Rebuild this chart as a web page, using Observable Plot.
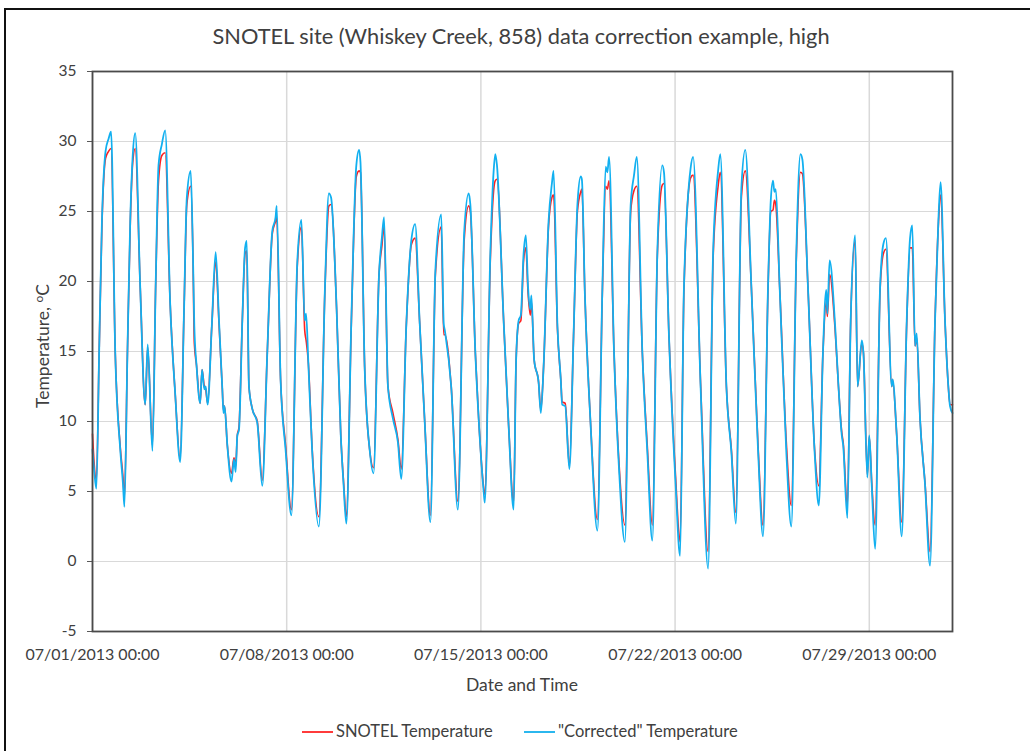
<!DOCTYPE html>
<html>
<head>
<meta charset="utf-8">
<script src="https://cdn.jsdelivr.net/npm/d3@7"></script>
<script src="https://cdn.jsdelivr.net/npm/@observablehq/plot@0.6"></script>
<style>
  html, body { margin: 0; padding: 0; background: #fff; }
  #wrap { position: relative; width: 1030px; height: 751px; overflow: hidden; font-family: Lato, "Open Sans", sans-serif; color: #404040; }
  #border { position: absolute; left: 4px; top: 8px; width: 1040px; height: 760px; border: 2px solid #111; box-sizing: border-box; }
  #title { position: absolute; left: 0; width: 1042px; top: 22px; text-align: center; font-size: 21.8px; }
  #chart { position: absolute; left: 0; top: 0; }
  #ylabel { position: absolute; left: 42px; top: 346px; transform: translate(-50%, -50%) rotate(-90deg); white-space: nowrap; font-size: 17.5px; }
  #ylabel sup { font-size: 12px; }
  #xlabel { position: absolute; left: 0; width: 1044px; top: 674px; text-align: center; font-size: 17.5px; }
  .leg { position: absolute; top: 721px; font-size: 16.5px; white-space: nowrap; }
  .leg span.sw { display: inline-block; width: 31px; height: 2px; vertical-align: middle; margin-right: 3px; position: relative; top: -1px; }
</style>
</head>
<body>
<div id="wrap">
  <div id="chart"></div>
  <div id="border"></div>
  <div id="title">SNOTEL site (Whiskey Creek, 858) data correction example, high</div>
  <div id="ylabel">Temperature, <sup>o</sup>C</div>
  <div id="xlabel">Date and Time</div>
  <div class="leg" style="left:302px"><span class="sw" style="background:#ff3b3b"></span>SNOTEL Temperature</div>
  <div class="leg" style="left:524px"><span class="sw" style="background:#2bb7ee"></span>"Corrected" Temperature</div>
</div>
<script>
// time in days since 07/01/2013 00:00
const days = [
  0.00,0.06,0.14,0.24,0.34,0.47,0.58,0.67,0.82,1.00,1.10,1.15,1.26,1.36,1.45,1.54,1.72,1.90,1.99,2.16,
  2.28,2.38,2.50,2.62,2.80,2.98,3.16,3.30,3.40,3.54,3.62,3.67,3.75,3.88,3.95,4.03,4.08,4.15,4.30,4.44,
  4.56,4.68,4.72,4.76,4.86,5.01,5.10,5.16,5.22,5.28,5.40,5.50,5.56,5.64,5.76,5.94,6.12,6.30,6.48,6.60,
  6.64,6.78,6.96,7.17,7.38,7.53,7.65,7.70,7.78,7.92,8.16,8.38,8.52,8.60,8.80,8.95,9.05,9.15,9.33,9.51,
  9.61,9.66,9.81,9.99,10.13,10.33,10.43,10.51,10.65,10.83,11.01,11.13,11.31,11.49,11.63,11.79,11.97,12.18,12.36,12.57,
  12.66,12.70,12.93,13.17,13.40,13.56,13.62,13.80,13.92,14.10,14.14,14.34,14.46,14.52,14.58,14.82,15.00,15.18,15.27,15.36,
  15.44,15.54,15.62,15.70,15.78,15.82,15.92,16.08,16.16,16.26,16.44,16.56,16.62,16.76,16.88,16.93,17.04,17.19,17.34,17.48,
  17.60,17.64,17.75,17.95,18.20,18.38,18.50,18.56,18.62,18.80,18.98,19.19,19.40,19.52,19.62,19.82,20.00,20.18,20.36,20.54,
  20.60,20.78,21.02,21.18,21.32,21.56,21.65,21.92,22.19,22.37,22.55,22.63,22.85,23.03,23.19,23.39,23.53,23.75,23.99,24.17,
  24.35,24.45,24.53,24.58,24.63,24.77,25.01,25.19,25.37,25.52,25.59,25.79,26.03,26.18,26.33,26.45,26.49,26.57,26.77,26.89,
  27.01,27.06,27.21,27.33,27.49,27.58,27.73,27.79,27.93,28.00,28.09,28.21,28.39,28.51,28.60,28.81,28.84,28.99,29.17,29.35,
  29.47,29.55,29.65,29.71,29.83,30.01,30.19,30.37,30.49,30.57,30.73,30.85,30.91,31.00
];
const corrected = [
  8.0,6.5,5.2,15.0,24.3,29.3,30.2,30.7,14.9,8.0,5.5,3.9,15.0,24.3,29.0,30.6,19.6,11.2,15.5,7.9,
  20.0,28.3,29.8,30.8,18.4,12.0,7.1,18.0,26.0,27.9,22.0,16.8,14.0,11.3,13.7,12.3,12.5,11.2,16.8,22.1,
  17.2,12.3,10.6,11.1,8.3,5.7,7.3,6.4,9.0,9.4,17.2,22.4,22.9,12.5,10.9,9.9,5.4,14.9,23.6,24.6,
  25.4,13.0,8.0,3.3,21.3,24.4,17.2,17.7,14.2,7.8,2.5,19.6,26.3,26.0,18.0,9.0,5.5,2.7,17.2,28.3,
  29.4,28.5,13.9,8.0,6.3,20.6,23.1,24.6,12.5,10.2,8.5,5.9,16.8,22.9,24.1,17.2,10.2,2.8,20.8,24.8,
  17.0,16.5,12.5,3.7,23.6,26.3,25.5,14.9,10.2,5.0,4.2,22.0,27.9,29.1,28.3,17.2,9.7,3.7,14.4,17.2,
  17.6,22.0,23.3,19.6,18.0,19.0,14.4,12.8,10.6,13.9,24.3,27.0,27.9,16.8,13.0,11.2,11.1,6.6,16.1,25.5,
  27.5,27.3,19.0,10.0,2.2,19.6,28.2,27.8,28.9,14.9,6.6,1.4,25.5,27.6,28.9,14.9,7.8,1.5,22.0,28.3,
  27.8,16.1,5.5,0.4,19.6,28.1,28.9,12.5,-0.5,22.0,27.9,29.1,12.5,7.8,2.7,26.7,29.4,19.6,8.0,1.8,
  19.6,25.8,27.2,26.4,26.6,19.6,7.8,2.5,22.0,29.1,28.7,19.6,7.8,4.0,14.9,19.4,17.7,21.5,16.8,12.5,
  9.0,8.3,3.1,17.2,23.3,12.5,15.8,14.9,6.0,9.0,5.4,0.9,19.6,22.7,23.1,12.5,13.0,9.0,1.8,17.2,
  23.1,24.0,15.4,16.3,10.2,5.5,-0.3,17.2,24.3,27.1,17.2,12.5,11.1,10.6
];
const snotel = [
  9.1,7.0,5.8,15.0,24.0,28.8,29.3,29.5,14.9,8.2,6.0,4.5,15.0,24.0,28.5,29.5,19.6,11.2,15.3,8.3,
  20.0,27.2,29.0,29.2,18.4,12.0,7.3,18.0,25.5,26.8,22.0,15.6,14.0,11.3,13.7,12.5,12.3,11.3,16.8,21.4,
  17.0,12.3,10.8,11.1,8.3,6.3,7.4,6.8,9.0,9.6,17.2,22.0,22.2,12.5,10.9,10.0,5.8,14.9,23.4,24.3,
  24.6,13.0,8.3,3.7,21.0,23.9,16.5,15.8,14.2,8.0,3.2,19.5,25.4,25.5,18.0,9.0,5.7,3.2,17.0,27.5,
  27.9,27.8,13.9,8.0,6.7,20.6,22.5,24.0,12.5,10.6,8.7,6.6,16.8,22.6,23.1,17.2,10.2,3.3,20.5,23.9,
  16.2,16.2,12.5,4.3,23.0,25.4,25.0,14.9,10.2,5.3,4.8,21.5,26.5,27.2,27.3,17.2,9.7,4.2,14.4,17.0,
  17.2,21.5,22.4,19.2,17.6,18.6,14.4,12.8,10.8,13.9,24.0,26.0,26.2,16.6,13.0,11.4,11.3,6.8,16.1,25.0,
  26.4,26.6,19.0,10.0,3.0,19.3,26.8,26.6,27.2,14.9,7.0,2.6,25.0,26.5,26.8,14.9,8.2,2.6,21.8,26.9,
  27.0,16.1,6.0,1.4,19.4,27.4,27.6,12.7,0.7,21.6,26.8,27.8,12.5,8.0,3.5,26.0,27.9,19.6,8.3,2.6,
  19.4,25.0,25.1,25.8,25.5,19.6,8.5,4.0,21.6,27.8,27.7,19.6,8.0,5.4,14.9,18.6,17.5,20.5,16.5,12.5,
  9.2,8.5,3.9,17.2,22.9,12.5,15.6,14.9,6.2,8.9,5.6,2.6,19.4,22.0,22.3,12.5,13.0,9.0,2.8,17.0,
  22.4,22.4,15.4,16.0,10.2,5.6,0.7,17.2,24.0,26.2,17.2,12.5,11.2,11.2
];
const yTicks = [-5, 0, 5, 10, 15, 20, 25, 30, 35];
const xTickLabels = ["07/01/2013 00:00", "07/08/2013 00:00", "07/15/2013 00:00", "07/22/2013 00:00", "07/29/2013 00:00"];
const xStart = "2013-07-01T00:00Z";
const xEnd = "2013-08-01T00:00Z";

const t0 = new Date(xStart).getTime();
const toDate = (d) => new Date(t0 + d * 864e5);
const parseLbl = d3.utcParse("%m/%d/%Y %H:%M");
const xTicks = xTickLabels.map(parseLbl);
const fmt = d3.utcFormat("%m/%d/%Y %H:%M");

const rows = days.map((d, i) => ({t: toDate(d), snotel: snotel[i], corrected: corrected[i]}));

const chart = Plot.plot({
  width: 1030,
  height: 700,
  marginLeft: 92,
  marginRight: 78,
  marginTop: 71,
  marginBottom: 69,
  style: {fontFamily: "Lato, 'Open Sans', sans-serif", color: "#404040", background: "transparent"},
  x: {type: "utc", domain: [new Date(xStart), new Date(xEnd)]},
  y: {domain: [-5, 35]},
  marks: [
    Plot.gridY(yTicks, {stroke: "#d9d9d9", strokeOpacity: 1, strokeWidth: 1.2}),
    Plot.gridX(xTicks, {stroke: "#d9d9d9", strokeOpacity: 1, strokeWidth: 1.5}),
    Plot.axisY(yTicks, {tickSize: 5, tickPadding: 11, fontSize: 15.5, label: null, stroke: "#595959", tickFormat: (d) => String(d)}),
    Plot.axisX(xTicks, {tickSize: 0, tickPadding: 17, fontSize: 16, label: null, tickFormat: fmt}),
    Plot.line(rows, {x: "t", y: "snotel", stroke: "#ff2020", strokeWidth: 1.6, curve: "monotone-x"}),
    Plot.line(rows, {x: "t", y: "corrected", stroke: "#12b0f0", strokeWidth: 1.8, curve: "monotone-x"}),
    Plot.frame({stroke: "#4a4a4a", strokeWidth: 1.8})
  ]
});
document.getElementById("chart").appendChild(chart);
</script>
</body>
</html>
